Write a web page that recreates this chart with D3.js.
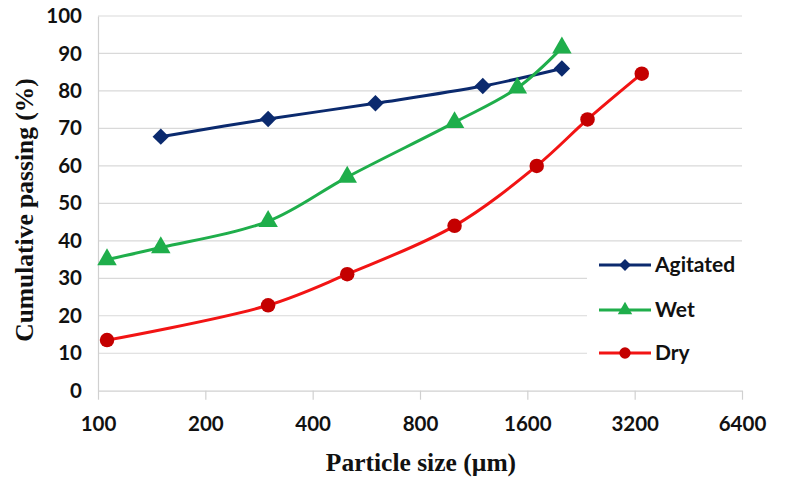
<!DOCTYPE html>
<html>
<head>
<meta charset="utf-8">
<script src="https://cdn.jsdelivr.net/npm/d3@7/dist/d3.min.js"></script>
<style>
  html, body { margin: 0; padding: 0; background: #fff; }
  svg { display: block; }
</style>
</head>
<body>
<svg id="chart" width="787" height="481"></svg>
<script>
// Sieve sizes (µm) and cumulative passing (%) for each preparation method
const agitatedSize = [150, 300, 600, 1200, 2000];
const agitatedPass = [67.8, 72.5, 76.7, 81.3, 86.0];

const wetSize = [106, 150, 300, 500, 1000, 1500, 2000];
const wetPass = [35.0, 38.2, 45.2, 57.0, 71.6, 80.8, 91.5];

const drySize = [106, 300, 500, 1000, 1700, 2360, 3350];
const dryPass = [13.5, 22.8, 31.1, 44.0, 60.0, 72.4, 84.6];

const xTicks = [100, 200, 400, 800, 1600, 3200, 6400];
const yTicks = [0, 10, 20, 30, 40, 50, 60, 70, 80, 90, 100];
const seriesNames = ["Agitated", "Wet", "Dry"];

// Diamonds are squares turned by 45 degrees
const series = [
  { name: seriesNames[0], x: agitatedSize, y: agitatedPass, line: "#0b2a6e", fill: "#0b2a6e", shape: d3.symbolSquare, rotate: 45, size: 135, legendSize: 70 },
  { name: seriesNames[1], x: wetSize, y: wetPass, line: "#1fae4b", fill: "#1fae4b", shape: d3.symbolTriangle, rotate: 0, size: 165, legendSize: 90 },
  { name: seriesNames[2], x: drySize, y: dryPass, line: "#f21414", fill: "#c40000", shape: d3.symbolCircle, rotate: 0, size: 165, legendSize: 100 }
];

const svg = d3.select("#chart");
const plotLeft = 98, plotRight = 742, plotTop = 16, plotBottom = 390.7;

const x = d3.scaleLog().base(2).domain([100, 6400]).range([plotLeft, plotRight]);
const y = d3.scaleLinear().domain([0, 100]).range([plotBottom, plotTop]);

const tickFont = "Lato, 'Open Sans', sans-serif";
const titleFont = "'Liberation Serif', 'Times New Roman', serif";

// Horizontal gridlines
svg.append("g")
  .selectAll("line")
  .data(yTicks.filter(t => t > 0))
  .join("line")
  .attr("x1", plotLeft).attr("x2", plotRight)
  .attr("y1", d => y(d)).attr("y2", d => y(d))
  .attr("stroke", "#d9d9d9").attr("stroke-width", 1.2);

// Y axis
const yAxis = svg.append("g")
  .attr("transform", `translate(${plotLeft},0)`)
  .call(d3.axisLeft(y).tickValues(yTicks).tickSize(0).tickPadding(16));
yAxis.select(".domain").attr("stroke", "#d0d0d0").attr("stroke-width", 1.2);
yAxis.selectAll("text")
  .attr("font-family", tickFont).attr("font-weight", 700)
  .attr("font-size", 20.5).attr("fill", "#111");

// X axis
const xAxis = svg.append("g")
  .attr("transform", `translate(0,${plotBottom})`)
  .call(d3.axisBottom(x).tickValues(xTicks).tickFormat(d3.format("d")).tickSizeInner(9).tickSizeOuter(0).tickPadding(17));
xAxis.select(".domain").attr("stroke", "#d0d0d0").attr("stroke-width", 1.2);
xAxis.selectAll(".tick line").attr("stroke", "#d0d0d0").attr("stroke-width", 1.2);
xAxis.selectAll("text")
  .attr("font-family", tickFont).attr("font-weight", 700)
  .attr("font-size", 20.5).attr("fill", "#111");

// Smoothed series lines with markers
const lineGen = d3.line().curve(d3.curveCatmullRom.alpha(0.5));

series.forEach(s => {
  const pts = s.x.map((v, i) => [x(v), y(s.y[i])]);
  svg.append("path")
    .attr("d", lineGen(pts))
    .attr("fill", "none")
    .attr("stroke", s.line)
    .attr("stroke-width", 3);
  svg.append("g")
    .selectAll("path")
    .data(pts)
    .join("path")
    .attr("transform", d => `translate(${d[0]},${d[1]}) rotate(${s.rotate})`)
    .attr("d", d3.symbol().type(s.shape).size(s.size))
    .attr("fill", s.fill);
});

// Legend
const legend = svg.append("g");
legend.append("rect")
  .attr("x", 587).attr("y", 246).attr("width", 160).attr("height", 128)
  .attr("fill", "#fff");
const legendRows = [265, 310, 353];
series.forEach((s, i) => {
  const ly = legendRows[i];
  legend.append("line")
    .attr("x1", 599).attr("x2", 651).attr("y1", ly).attr("y2", ly)
    .attr("stroke", s.line).attr("stroke-width", 3);
  legend.append("path")
    .attr("transform", `translate(625,${ly}) rotate(${s.rotate})`)
    .attr("d", d3.symbol().type(s.shape).size(s.legendSize))
    .attr("fill", s.fill);
  legend.append("text")
    .attr("x", 655).attr("y", ly + 7)
    .attr("font-family", tickFont).attr("font-weight", 700)
    .attr("font-size", 21).attr("fill", "#111")
    .text(s.name);
});

// Axis titles
svg.append("text")
  .attr("x", 421).attr("y", 471)
  .attr("text-anchor", "middle")
  .attr("font-family", titleFont).attr("font-weight", 700)
  .attr("font-size", 25.5).attr("fill", "#111")
  .text("Particle size (µm)");

svg.append("text")
  .attr("transform", "translate(33,210) rotate(-90)")
  .attr("text-anchor", "middle")
  .attr("font-family", titleFont).attr("font-weight", 700)
  .attr("font-size", 25.5).attr("fill", "#111")
  .text("Cumulative passing (%)");
</script>
</body>
</html>
